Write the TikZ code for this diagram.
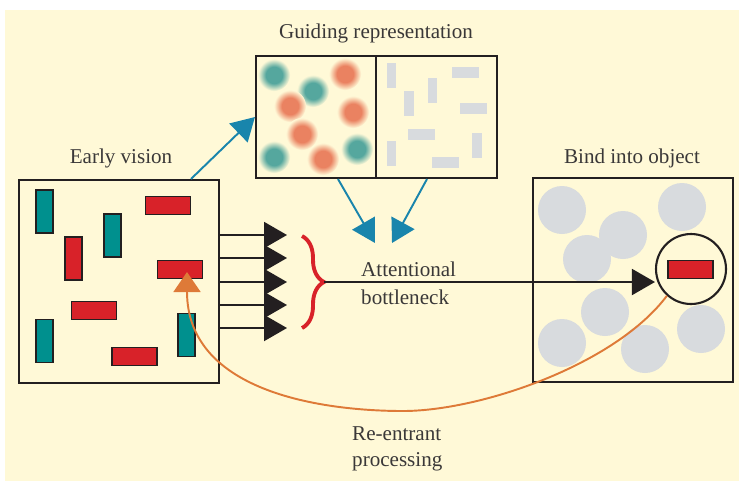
\documentclass[tikz,border=0pt]{standalone}
\usepackage{fontspec}
\setmainfont{Liberation Serif}
\usepackage{xcolor}
\usepackage{tikz}
\usetikzlibrary{shapes,arrows.meta,positioning,calc,decorations.pathreplacing}

\definecolor{cream}{HTML}{FFF9D7}
\definecolor{ink}{HTML}{231F20}
\definecolor{tealbar}{HTML}{00908E}
\definecolor{redbar}{HTML}{D82229}
\definecolor{blueline}{HTML}{1985AC}
\definecolor{orangeline}{HTML}{DE7A38}
\definecolor{greyblob}{HTML}{D8DBDE}
\definecolor{tealblob}{HTML}{55A79E}
\definecolor{redblob}{HTML}{EA8261}
\definecolor{textgrey}{HTML}{3A3838}

\pgfdeclareradialshading{tealspot}{\pgfpointorigin}{color(0bp)=(tealblob); color(13bp)=(tealblob); color(25bp)=(cream); color(50bp)=(cream)}
\pgfdeclareradialshading{redspot}{\pgfpointorigin}{color(0bp)=(redblob); color(13bp)=(redblob); color(25bp)=(cream); color(50bp)=(cream)}

\begin{document}
\begin{tikzpicture}[
            x=0.02cm, y=-0.02cm,
            every node/.style={font=\fontsize{12}{16}\selectfont, text=textgrey},
            box/.style={draw=ink, line width=1.2pt, inner sep=0pt},
            hbar/.style={draw=ink, line width=0.6pt, fill=redbar, minimum width=0.9cm, minimum height=0.36cm, inner sep=0pt},
            vbar/.style={draw=ink, line width=0.6pt, fill=tealbar, minimum width=0.34cm, minimum height=0.86cm, inner sep=0pt},
            vred/.style={vbar, fill=redbar},
            ghbar/.style={fill=greyblob, minimum width=0.54cm, minimum height=0.22cm, inner sep=0pt},
            gvbar/.style={fill=greyblob, minimum width=0.19cm, minimum height=0.5cm, inner sep=0pt},
            fat/.style={draw=ink, line width=1.1pt, -{Triangle[length=0.46cm,width=0.52cm]}},
            feed/.style={draw=blueline, line width=1.1pt, -{Triangle[length=0.46cm,width=0.52cm]}},
        ]
            \useasboundingbox (0,0) rectangle (739,481);
            \fill[white] (0,0) rectangle (739,481);
            \fill[cream] (5,10) rectangle (739,481);

            % early vision
            \node[box, minimum width=4cm, minimum height=4.06cm] (early) at (119,281.5) {};
            \node (earlylbl) at (121,158) {Early vision};
            \node[vbar] (e1) at (44.5,211.5) {};
            \node[hbar] (e2) at (168,205.5) {};
            \node[vbar] (e3) at (112.5,235.5) {};
            \node[vred] (e4) at (73.5,258.5) {};
            \node[hbar] (e6) at (94,310.5) {};
            \node[vbar] (e7) at (44.5,341) {};
            \node[hbar] (e8) at (134.5,356.5) {};
            \node[vbar] (e9) at (186.5,335) {};
            \node[hbar] (tgt) at (180,269.5) {};

            % guiding representation
            \foreach \x/\y in {274/75, 313/91, 274/157, 357/149}
                \shade[shading=tealspot] (\x,\y) circle (0.32cm);
            \foreach \x/\y in {345/74, 290/106, 353/112, 302/134, 323/159}
                \shade[shading=redspot] (\x,\y) circle (0.32cm);
            \foreach \x/\y in {391.5/75.5, 432.5/90, 409/103.5, 391.5/153, 477/145.5}
                \node[gvbar] at (\x,\y) {};
            \foreach \x/\y in {465.5/72, 473.5/108.5, 421.5/134.5, 445.5/162}
                \node[ghbar] at (\x,\y) {};
            \node[box, minimum width=2.4cm, minimum height=2.44cm] (guidl) at (316,117) {};
            \node[box, minimum width=2.42cm, minimum height=2.44cm] (guidr) at (436.5,117) {};
            \node (guidlbl) at (376,33) {Guiding representation};

            % bind into object
            \foreach \x/\y in {562/210, 682/207, 623/235, 587/259, 605/312, 562/343, 645/349, 701/329}
                \fill[greyblob] (\x,\y) circle (0.48cm);
            \node[box, minimum width=4cm, minimum height=4.08cm] (bind) at (633,280) {};
            \node (bindlbl) at (632,158) {Bind into object};
            \node[draw=ink, line width=1.2pt, circle, minimum size=1.4cm, inner sep=0pt] (ring) at (691,269) {};
            \node[hbar] (picked) at (690.5,269.5) {};

            % arrows
            \draw[feed] ([xshift=1.44cm]early.north) -- (guidl.west);
            \coordinate (gl) at (375,243);
            \coordinate (gr) at (392,243);
            \draw[feed] ([xshift=0.44cm]guidl.south) -- (gl);
            \draw[feed] ([xshift=-0.19cm]guidr.south) -- (gr);

            \foreach \y [count=\i] in {235,258,282,305,328} {
                \coordinate (in\i) at (287,\y);
                \draw[fat] (early.east |- in\i) -- (in\i);
            }
            \draw[redbar, line width=2.2pt, decorate, decoration={brace, amplitude=0.44cm}] (302,236) -- (302,328);
            \coordinate (bend) at (324,282);
            \draw[fat] (bend) -- (bend -| ring.west);
            \node[align=left, anchor=west] (neck) at (355,283) {Attentional\\bottleneck};

            \draw[orangeline, line width=1.1pt, -{Triangle[length=0.4cm,width=0.54cm]}]
                (ring.228) .. controls (615,365) and (480,411) .. (403,411)
                .. controls (330,411) and (187,395) .. ([xshift=0.14cm,yshift=0.14cm]tgt.south);
            \node[align=left, anchor=west, font=\fontsize{12}{15}\selectfont] (reent) at (346,449) {Re-entrant\\processing};
        \end{tikzpicture}
\end{document}
